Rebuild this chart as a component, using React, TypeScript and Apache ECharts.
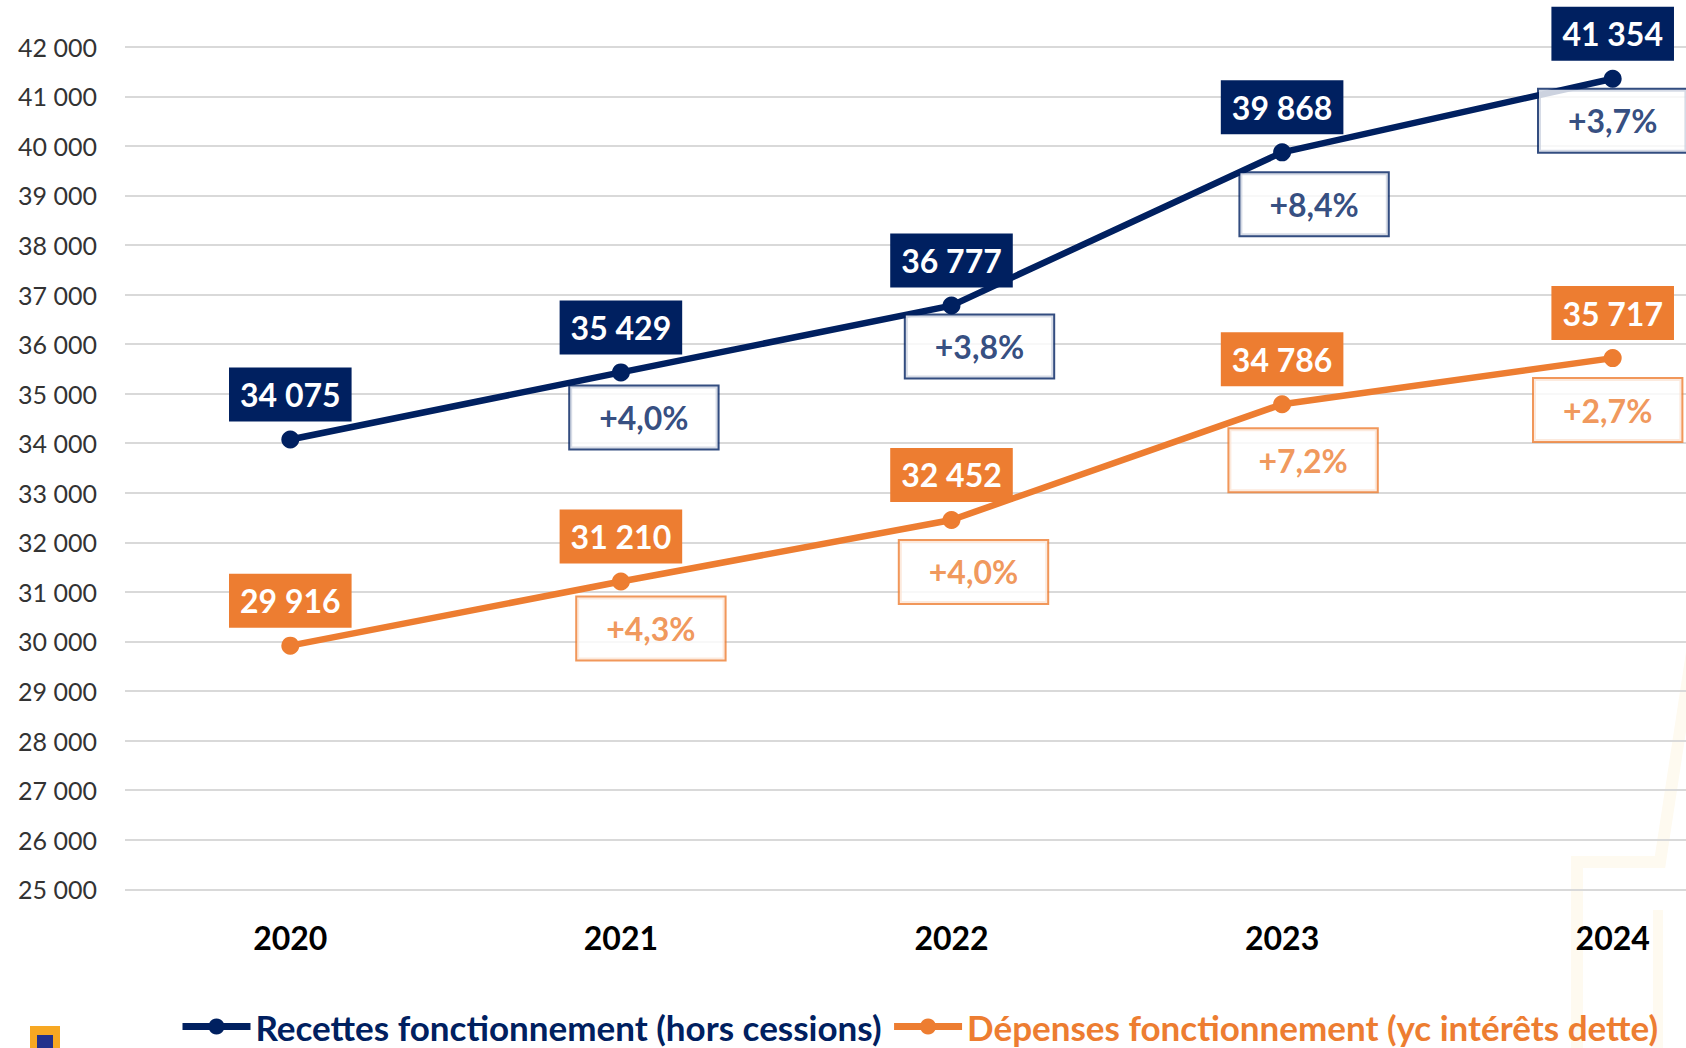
import React, { useEffect, useRef } from "react";
import * as echarts from "echarts";

const years = ["2020", "2021", "2022", "2023", "2024"];
const recettes = [34075, 35429, 36777, 39868, 41354];
const depenses = [29916, 31210, 32452, 34786, 35717];
const recettesPct = ["", "+4,0%", "+3,8%", "+8,4%", "+3,7%"];
const depensesPct = ["", "+4,3%", "+4,0%", "+7,2%", "+2,7%"];
const yMin = 25000;
const yMax = 42000;
const yStep = 1000;

const recettesName = "Recettes fonctionnement (hors cessions)";
const depensesName = "Dépenses fonctionnement (yc intérêts dette)";

// label layout (offsets of the percentage boxes, relative to each point)
const recettesPctShift: (number[] | null)[] = [null, [23, 13], [28, 9], [32, 20], [0, 10]];
const depensesPctShift: (number[] | null)[] = [null, [30, 15], [22, 20], [21, 24], [-5, 20]];

const NAVY = "#002060";
const ORANGE = "#ED7D31";
const FONT = "Lato, 'Open Sans', sans-serif";

const fmt = (v: number) => {
  const th = Math.floor(v / 1000);
  const rest = String(v % 1000).padStart(3, "0");
  return `${th} ${rest}`;
};

function lineSeries(name: string, data: number[], color: string) {
  return {
    name,
    type: "line",
    data,
    symbol: "circle",
    symbolSize: 18,
    z: 3,
    lineStyle: { color, width: 6.5 },
    itemStyle: { color },
    label: {
      show: true,
      position: "top",
      distance: 9,
      formatter: (p: any) => fmt(p.value),
      backgroundColor: color,
      color: "#fff",
      fontFamily: FONT,
      fontWeight: "bold",
      fontSize: 32,
      lineHeight: 32,
      padding: [11, 11, 11, 11],
    },
  };
}

function pctSeries(name: string, data: number[], pct: string[], shift: (number[] | null)[], color: string) {
  return {
    name: name + " %",
    type: "scatter",
    silent: true,
    z: 4,
    symbol: "circle",
    symbolSize: 2,
    itemStyle: { color: "rgba(0,0,0,0)" },
    data: data.map((v, i) =>
      shift[i] ? { value: v, label: { offset: shift[i] as number[] } } : "-"
    ),
    label: {
      show: true,
      position: "bottom",
      distance: 0,
      formatter: (p: any) => pct[p.dataIndex],
      backgroundColor: "#fff",
      borderColor: color,
      borderWidth: 2,
      color,
      fontFamily: FONT,
      fontWeight: "bold",
      fontSize: 32,
      lineHeight: 32,
      padding: [15, 29, 15, 29],
    },
  };
}

export default function App() {
  const ref = useRef<HTMLDivElement>(null);

  useEffect(() => {
    if (!ref.current) return;
    const chart = echarts.init(ref.current, undefined, { renderer: "svg" });
    chart.setOption({
      animation: false,
      backgroundColor: "#fff",
      grid: { left: 125, right: 0, top: 46.7, bottom: 158.7, containLabel: false },
      xAxis: {
        type: "category",
        data: years,
        boundaryGap: true,
        axisLine: { show: false },
        axisTick: { show: false },
        axisLabel: {
          margin: 32,
          fontSize: 32,
          fontWeight: "bold",
          color: "#000",
          fontFamily: FONT,
        },
      },
      yAxis: {
        type: "value",
        min: yMin,
        max: yMax,
        interval: yStep,
        axisLine: { show: false },
        axisTick: { show: false },
        splitLine: { lineStyle: { color: "#d9d9d9", width: 2 } },
        axisLabel: {
          margin: 28,
          fontSize: 25,
          color: "#333",
          fontFamily: FONT,
          formatter: (v: number) => fmt(v),
        },
      },
      legend: {
        left: 174,
        top: 1004,
        padding: 5,
        itemWidth: 68,
        itemHeight: 20,
        itemGap: 9,
        lineStyle: { width: 7 },
        textStyle: { fontFamily: FONT, fontSize: 35, lineHeight: 35, fontWeight: "bold" },
        data: [
          { name: recettesName, textStyle: { color: NAVY } },
          { name: depensesName, textStyle: { color: ORANGE } },
        ],
      },
      graphic: [
        {
          type: "polyline",
          silent: true,
          z: -10,
          shape: { points: [[1700, 600], [1660, 862], [1577, 862], [1577, 1060]] },
          style: { stroke: "#fefaf0", lineWidth: 12, fill: null },
        },
        {
          type: "line",
          silent: true,
          z: -10,
          shape: { x1: 1658, y1: 910, x2: 1658, y2: 1060 },
          style: { stroke: "#fefaf0", lineWidth: 10 },
        },
        {
          type: "rect",
          silent: true,
          shape: { x: 30, y: 1026, width: 30, height: 40 },
          style: { fill: "#F7A823" },
        },
        {
          type: "rect",
          silent: true,
          shape: { x: 37, y: 1035, width: 16, height: 30 },
          style: { fill: "#23318C" },
        },
      ],
      series: [
        lineSeries(recettesName, recettes, NAVY),
        lineSeries(depensesName, depenses, ORANGE),
        pctSeries(recettesName, recettes, recettesPct, recettesPctShift, NAVY),
        pctSeries(depensesName, depenses, depensesPct, depensesPctShift, ORANGE),
      ],
    });
    return () => chart.dispose();
  }, []);

  return (
    <div
      style={{
        position: "fixed",
        left: 0,
        top: 0,
        width: 1686,
        height: 1048,
        overflow: "hidden",
        background: "#fff",
      }}
    >
      <div ref={ref} style={{ width: 1778, height: 1048 }} />
    </div>
  );
}
